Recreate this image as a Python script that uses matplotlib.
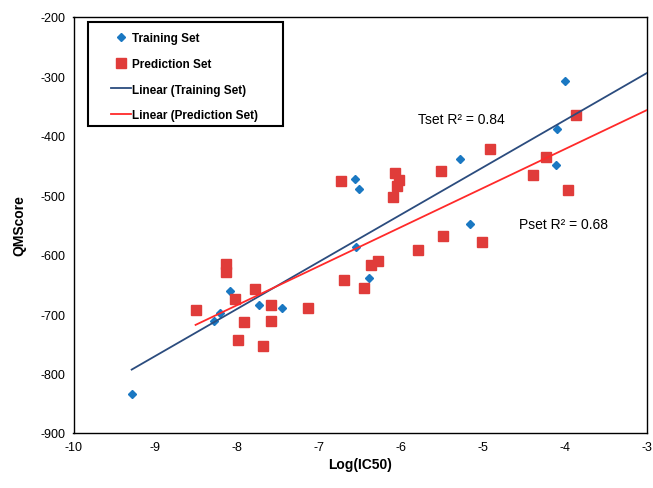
import numpy as np
import matplotlib
matplotlib.use("Agg")
import matplotlib.pyplot as plt
from matplotlib.patches import Rectangle

plt.rcParams['font.family'] = ['Liberation Sans', 'DejaVu Sans']
plt.rcParams['axes.unicode_minus'] = False

# training set: log(IC50) vs QMScore
train_x = [-9.29, -8.29, -8.21, -8.09, -7.74, -7.46, -6.55, -6.56, -6.52, -6.39,
           -5.28, -5.16, -4.10, -4.11, -4.00]
train_y = [-834, -711, -698, -662, -685, -690, -587, -473, -489, -640,
           -439, -549, -388, -449, -308]

# prediction set
pred_x = [-8.51, -8.14, -8.14, -8.03, -7.92, -7.99, -7.79, -7.59, -7.59, -7.69,
          -7.14, -6.70, -6.74, -6.08, -6.03, -6.05, -6.10, -5.52, -4.92, -3.87,
          -4.23, -4.39, -3.96, -5.49, -5.02, -5.79, -6.28, -6.37, -6.46]
pred_y = [-694, -616, -630, -675, -713, -743, -658, -684, -711, -754,
          -690, -643, -476, -463, -475, -485, -504, -459, -422, -365,
          -436, -466, -491, -569, -578, -593, -610, -617, -657]

r2_train = 0.84
r2_pred = 0.68

fig = plt.figure(figsize=(6.53, 4.89), dpi=100)
ax = fig.add_axes([73.5 / 653, 1 - 434 / 489, 573.5 / 653, 416.3 / 489])

ax.plot(train_x, train_y, linestyle='none', marker='D', markersize=4.2,
        color='#1a78c2', label='Training Set', zorder=3)
ax.plot(pred_x, pred_y, linestyle='none', marker='s', markersize=7.5,
        color='#e03c3a', label='Prediction Set', zorder=3)

# linear trendlines, extended forward to x = -3
for xs, ys, col, name in [(train_x, train_y, '#2b4c7e', 'Linear (Training Set)'),
                          (pred_x, pred_y, '#ff2a2a', 'Linear (Prediction Set)')]:
    k, b = np.polyfit(xs, ys, 1)
    xx = np.array([min(xs), -3])
    ax.plot(xx, k * xx + b, color=col, lw=1.3, label=name, zorder=4)

ax.text(-5.80, -372, 'Tset R² = %.2f' % r2_train, fontsize=10,
        va='center', ha='left')
ax.text(-4.56, -549, 'Pset R² = %.2f' % r2_pred, fontsize=10,
        va='center', ha='left')

ax.set_xlim(-10, -3)
ax.set_ylim(-900, -200)
ax.set_xticks(range(-10, -2))
ax.set_yticks(range(-900, -199, 100))
ax.tick_params(length=0, labelsize=9, pad=6)
for s in ax.spines.values():
    s.set_linewidth(1.0)
ax.set_xlabel('Log(IC50)', fontsize=10, fontweight='bold', labelpad=3)
ax.set_ylabel('QMScore', fontsize=10, fontweight='bold', labelpad=10)

# legend box drawn separately so the padding can be set freely
ax.add_patch(Rectangle((0.0253, 0.7375), 0.340, 0.2498, transform=ax.transAxes,
                       facecolor='white', edgecolor='black', lw=1.5, zorder=5))
leg = ax.legend(loc='upper left', bbox_to_anchor=((111 - 73.5) / 573.5, (434 - 33) / 416.3),
                prop={'weight': 'bold', 'size': 8.5}, frameon=False,
                borderpad=0, labelspacing=1.17, handlelength=1.7,
                handletextpad=0.1, borderaxespad=0, numpoints=1)
leg.set_zorder(6)

fig.savefig('out.png', dpi=100)
